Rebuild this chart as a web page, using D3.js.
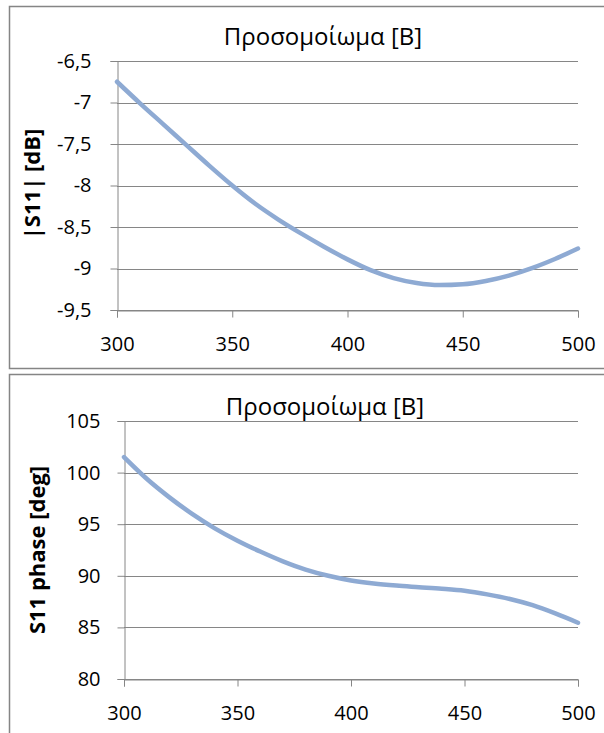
<!DOCTYPE html>
<html>
<head>
<meta charset="utf-8">
<script src="https://cdn.jsdelivr.net/npm/d3@7"></script>
<style>
  body { margin: 0; background: #fff; }
  svg { display: block; }
  text { font-family: "Open Sans", "Noto Sans", sans-serif; fill: #000; }
</style>
</head>
<body>
<svg id="chart" width="604" height="733"></svg>
<script>
// frequency (MHz)
const freq = [300, 310, 320, 330, 340, 350, 360, 370, 380, 390, 400,
              410, 420, 430, 440, 450, 460, 470, 480, 490, 500];
// |S11| in dB
const s11Mag = [-6.75, -7.01, -7.26, -7.51, -7.76, -8.0, -8.22, -8.41, -8.58, -8.74, -8.89,
                -9.02, -9.115, -9.175, -9.2, -9.19, -9.15, -9.085, -8.995, -8.885, -8.76];
// S11 phase in degrees
const s11Phase = [101.5, 99.4, 97.6, 96.0, 94.6, 93.4, 92.35, 91.4, 90.6, 90.0, 89.55,
                  89.25, 89.05, 88.9, 88.75, 88.55, 88.2, 87.75, 87.15, 86.35, 85.45];

const xTicks = [300, 350, 400, 450, 500];
const magTicks = [-6.5, -7, -7.5, -8, -8.5, -9, -9.5];
const phaseTicks = [105, 100, 95, 90, 85, 80];

const titleText = "Προσομοίωμα [Β]";

const svg = d3.select("#chart");
const commaFmt = d => String(d).replace(".", ",");

function drawChart(cfg) {
  const g = svg.append("g");

  // outer chart border
  g.append("rect")
    .attr("x", cfg.box[0]).attr("y", cfg.box[1])
    .attr("width", cfg.box[2]).attr("height", cfg.box[3])
    .attr("fill", "none").attr("stroke", "#858585").attr("stroke-width", 1.5);

  const x = d3.scaleLinear().domain([300, 500]).range([cfg.left, cfg.right]);
  const y = d3.scaleLinear().domain(cfg.domain).range([cfg.bottom, cfg.top]);

  // horizontal gridlines
  g.append("g").selectAll("line").data(cfg.yTicks).join("line")
    .attr("x1", cfg.left).attr("x2", cfg.right)
    .attr("y1", d => Math.round(y(d)) + 0.5).attr("y2", d => Math.round(y(d)) + 0.5)
    .attr("stroke", "#868686");

  const yAxis = g.append("g")
    .attr("transform", `translate(${Math.round(cfg.left) + 0.5},0)`)
    .call(d3.axisLeft(y).tickValues(cfg.yTicks).tickSize(7).tickPadding(cfg.yPad).tickFormat(cfg.fmt));
  yAxis.select(".domain").attr("stroke", "#868686");
  yAxis.selectAll(".tick line").attr("stroke", "#868686");
  yAxis.selectAll("text").attr("font-size", 20).attr("fill", "#000")
    .attr("font-family", "'Open Sans', sans-serif");

  const xAxis = g.append("g")
    .attr("transform", `translate(0,${Math.round(cfg.bottom) + 0.5})`)
    .call(d3.axisBottom(x).tickValues(xTicks).tickSize(7).tickPadding(cfg.xPad));
  xAxis.select(".domain").attr("stroke", "#868686");
  xAxis.selectAll(".tick line").attr("stroke", "#868686");
  xAxis.selectAll("text").attr("font-size", 20).attr("fill", "#000")
    .attr("font-family", "'Open Sans', sans-serif");

  // data line
  const line = d3.line()
    .x((d, i) => x(freq[i]))
    .y(d => y(d))
    .curve(d3.curveMonotoneX);
  g.append("path")
    .datum(cfg.values)
    .attr("d", line)
    .attr("fill", "none")
    .attr("stroke", "#8eaad3")
    .attr("stroke-width", 4.5)
    .attr("stroke-linecap", "round");

  g.append("text")
    .attr("x", cfg.titleX).attr("y", cfg.titleY)
    .attr("text-anchor", "middle")
    .attr("font-size", 24)
    .text(titleText);

  g.append("text")
    .attr("transform", `translate(${cfg.labelX},${cfg.labelY}) rotate(-90)`)
    .attr("text-anchor", "middle")
    .attr("font-size", 22)
    .attr("font-weight", "bold")
    .text(cfg.label);
}

drawChart({
  box: [9.5, 6.5, 620, 362],
  left: 117, right: 578, top: 61, bottom: 310,
  domain: [-9.5, -6.5], yTicks: magTicks, fmt: commaFmt, xPad: 19, yPad: 19,
  titleX: 323, titleY: 45, labelX: 40, labelY: 184,
  label: "|S11| [dB]", values: s11Mag
});

drawChart({
  box: [9.5, 374.5, 620, 380],
  left: 124, right: 578, top: 421, bottom: 679,
  domain: [80, 105], yTicks: phaseTicks, fmt: d3.format("d"), xPad: 19, yPad: 17,
  titleX: 325, titleY: 415, labelX: 45, labelY: 550,
  label: "S11 phase [deg]", values: s11Phase
});
</script>
</body>
</html>
